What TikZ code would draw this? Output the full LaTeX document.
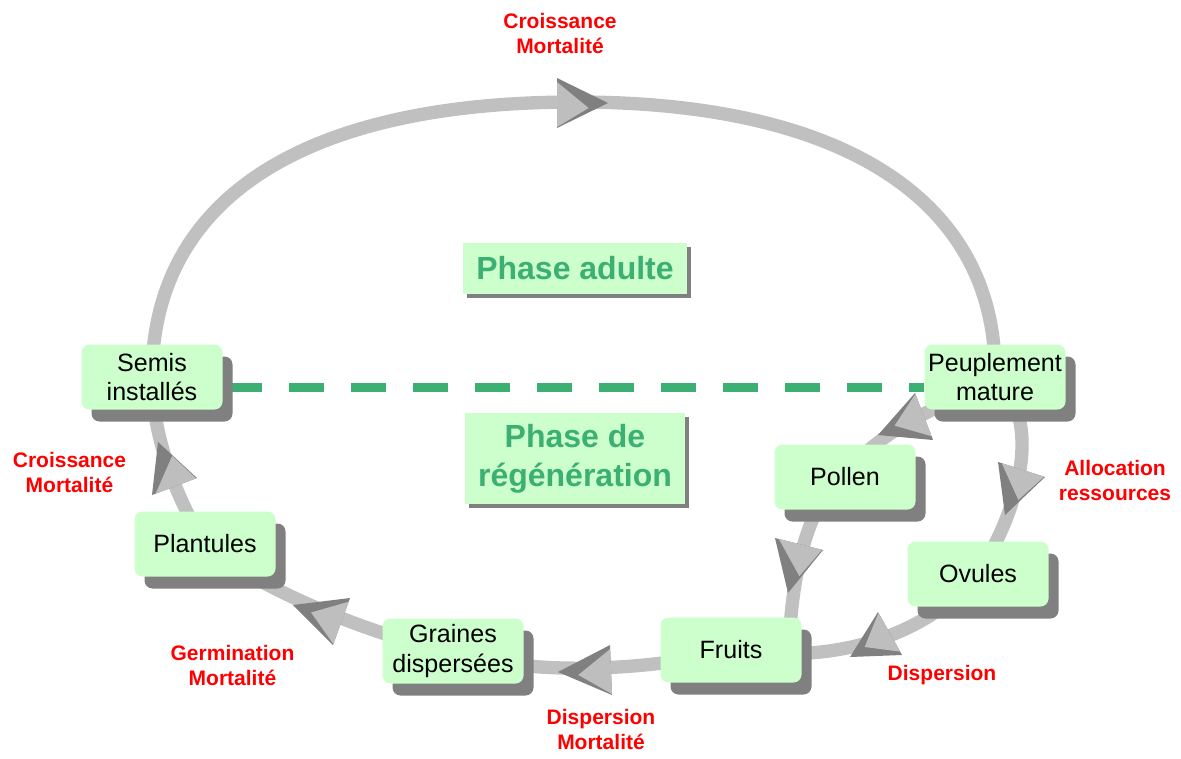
\documentclass[tikz,border=0pt]{standalone}
\usepackage{fontspec}
\setmainfont{Liberation Sans}
\usetikzlibrary{calc,shadows,backgrounds}
\definecolor{boxgreen}{HTML}{CCFFCC}
\definecolor{shade}{HTML}{808080}
\definecolor{loopgray}{HTML}{C0C0C0}
\definecolor{phasegreen}{RGB}{60,175,115}
\definecolor{lblred}{HTML}{FF0000}
\definecolor{ahdark}{HTML}{808080}
\definecolor{ahlight}{HTML}{BEBEBE}
% #1 tip, #2 base corner (dark side), #3 base corner (light side), #4 lean
\newcommand\arrhd[4]{%
  \pgfmathsetmacro\arrca{0.19-0.5*#4}%
  \pgfmathsetmacro\arrcb{0.19+0.5*#4}%
  \fill[ahdark] #1 -- #2 -- #3 -- cycle;
  \fill[ahlight] ($0.92*#2+0.08*#3$) -- ($0.02*#2+0.98*#3$) -- ($0.62*#1+\arrca*#2+\arrcb*#3$) -- cycle;
}
\begin{document}
\begin{tikzpicture}[x=0.75pt,y=-0.75pt,
  stage/.style={fill=boxgreen, rounded corners=6pt, minimum width=105.75pt,
    minimum height=48.75pt, inner sep=0pt, align=center,
    font=\fontsize{18.8}{21.8}\selectfont,
    drop shadow={shadow xshift=7.5pt, shadow yshift=-9pt, fill=shade, opacity=1}},
  phasebox/.style={fill=boxgreen, inner sep=0pt, align=center, text=phasegreen,
    font=\bfseries\fontsize{24}{29.5}\selectfont,
    drop shadow={shadow xshift=3pt, shadow yshift=-3pt, fill=shade, opacity=1}},
  lbl/.style={text=lblred, font=\bfseries\fontsize{15.75}{18.75}\selectfont,
    align=center, inner sep=0pt},
  loopline/.style={draw=loopgray, line width=10pt},
  dashline/.style={draw=phasegreen, line width=6.75pt,
    dash pattern=on 26.25pt off 20.25pt, dash phase=43.1pt}
]
\useasboundingbox (0,0) rectangle (1181,758);

% stages
\node[stage] (semis)  at (152,377) {Semis\\installés};
\node[stage] (peup)   at (995,377) {Peuplement\\mature};
\node[stage] (pollen) at (845,477) {Pollen};
\node[stage] (ovules) at (978,574) {Ovules};
\node[stage] (fruits) at (731,650) {Fruits};
\node[stage] (graines) at (453,651) {Graines\\dispersées};
\node[stage] (plant)  at (205,544) {Plantules};

% phases
\node[phasebox, minimum width=168pt, minimum height=38.25pt] (adulte) at (575,268.5) {Phase adulte};
\node[phasebox, minimum width=165pt, minimum height=68.25pt] (regen) at (575,458.5) {\raisebox{0pt}{Phase de}\\régénération};

% labels
\node[lbl] (l1) at (560,33) {Croissance\\Mortalité};
\node[lbl] (l2) at (1115,480) {Allocation\\ressources};
\node[lbl] (l3) at (942,675) {Dispersion};
\node[lbl] (l4) at (601,729.5) {Dispersion\\Mortalité};
\node[lbl] (l5) at (232.5,665) {Germination\\Mortalité};
\node[lbl] (l6) at (69.5,472) {Croissance\\Mortalité};

\begin{scope}[on background layer]
  % big cycle
  \draw[loopline] (semis.center) .. controls (152,201) and (300,102) .. (576,102)
        .. controls (850,102) and (998,205) .. (peup.center);
  \draw[loopline] (peup.center) .. controls (1040,415) and (1025,500) .. (ovules.center);
  \draw[loopline] (ovules.center) .. controls (940,620) and (860,668) .. (fruits.center);
  \draw[loopline] (fruits.center) .. controls (650,672) and (520,676) .. (graines.center);
  \draw[loopline] (graines.center) .. controls (380,640) and (250,585) .. (plant.center);
  \draw[loopline] (plant.center) .. controls (180,505) and (152,440) .. (semis.center);
  % pollen branch
  \draw[loopline] (peup.center) .. controls (950,405) and (880,425) .. (pollen.center);
  \draw[loopline] (pollen.center) .. controls (805,500) and (789,590) .. ($(fruits.center)+(58,10)$);
  % phase separator
  \draw[dashline] ($(semis.east)+(0,10)$) -- ($(peup.west)+(0,10)$);
  % arrowheads
  \arrhd{(608,103)}{(557,78)}{(557,128)}{0.2}
  \arrhd{(1005,515)}{(998,462)}{(1045,477)}{0.3}
  \arrhd{(788,593)}{(775,538)}{(823,550)}{0.3}
  \arrhd{(850,657)}{(902,655)}{(878,612)}{0.05}
  \arrhd{(558,672)}{(610,645)}{(612,695)}{0.15}
  \arrhd{(293,605)}{(350,598)}{(333,645)}{0.05}
  \arrhd{(158,442)}{(152,495)}{(197,478)}{0.35}
  \arrhd{(878,435)}{(933,440)}{(915,393)}{0.1}
\end{scope}
\end{tikzpicture}
\end{document}
